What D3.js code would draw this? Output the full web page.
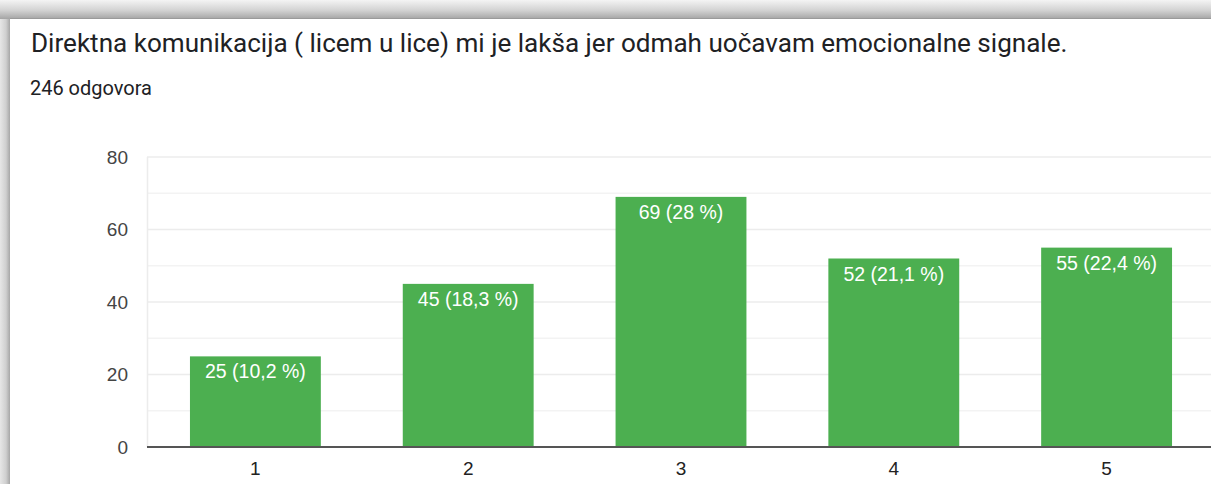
<!DOCTYPE html>
<html>
<head>
<meta charset="utf-8">
<script src="https://cdn.jsdelivr.net/npm/d3@7"></script>
<style>
  html, body { margin: 0; padding: 0; background: #fff; }
  svg { display: block; }
</style>
</head>
<body>
<svg id="chart"></svg>
<script>
const width = 1211;
const height = 484;

const title = "Direktna komunikacija ( licem u lice) mi je lakša jer odmah uočavam emocionalne signale.";
const subtitle = "246 odgovora";

const categories = ["1", "2", "3", "4", "5"];
const counts = [25, 45, 69, 52, 55];
const percents = ["10,2", "18,3", "28", "21,1", "22,4"];
const majorTicks = [0, 20, 40, 60, 80];
const minorTicks = [10, 30, 50, 70];

const bars = categories.map((c, i) => ({ cat: c, value: counts[i], pct: percents[i] }));

const svg = d3.select("#chart")
  .attr("width", width)
  .attr("height", height);

// shadow frame around the card
const defs = svg.append("defs");
const topGrad = defs.append("linearGradient")
  .attr("id", "topShade").attr("x1", 0).attr("y1", 0).attr("x2", 0).attr("y2", 1);
topGrad.append("stop").attr("offset", "0%").attr("stop-color", "#f4f4f4");
topGrad.append("stop").attr("offset", "55%").attr("stop-color", "#d2d2d2");
topGrad.append("stop").attr("offset", "100%").attr("stop-color", "#a4a4a4");

const leftGrad = defs.append("linearGradient")
  .attr("id", "leftShade").attr("x1", 0).attr("y1", 0).attr("x2", 1).attr("y2", 0);
leftGrad.append("stop").attr("offset", "0%").attr("stop-color", "#e6e6e6");
leftGrad.append("stop").attr("offset", "60%").attr("stop-color", "#cfcfcf");
leftGrad.append("stop").attr("offset", "100%").attr("stop-color", "#a6a6a6");

svg.append("rect").attr("x", 0).attr("y", 0).attr("width", width).attr("height", height).attr("fill", "#fff");
svg.append("rect").attr("x", 0).attr("y", 0).attr("width", 10).attr("height", height).attr("fill", "url(#leftShade)");
svg.append("rect").attr("x", 0).attr("y", 0).attr("width", width).attr("height", 19).attr("fill", "url(#topShade)");
svg.append("line").attr("x1", 10).attr("x2", width).attr("y1", 18.5).attr("y2", 18.5)
  .attr("stroke", "#9a9a9a").attr("stroke-width", 1);

// title + count
const titleText = svg.append("text")
  .attr("x", 31).attr("y", 52)
  .attr("font-family", "Roboto, 'Open Sans', sans-serif")
  .attr("font-size", 24)
  .attr("fill", "#202124")
  .text(title);
const tw = titleText.node().getComputedTextLength();
titleText.attr("font-size", 24 * 1037 / tw);

const subText = svg.append("text")
  .attr("x", 30).attr("y", 95)
  .attr("font-family", "Roboto, sans-serif")
  .attr("font-size", 18)
  .attr("fill", "#202124")
  .text(subtitle);
const sw = subText.node().getComputedTextLength();
subText.attr("font-size", 18 * 122 / sw);

// scales
const x = d3.scaleBand()
  .domain(categories)
  .range([149, 1213])
  .paddingInner(0.385)
  .paddingOuter(0.1925);

const y = d3.scaleLinear()
  .domain([0, 80])
  .range([447, 157]);

const plot = svg.append("g");

// gridlines
plot.selectAll(".minor")
  .data(minorTicks)
  .join("line")
  .attr("class", "minor")
  .attr("x1", 147).attr("x2", width)
  .attr("y1", d => y(d)).attr("y2", d => y(d))
  .attr("stroke", "#f3f3f3").attr("stroke-width", 1.5);

plot.selectAll(".major")
  .data(majorTicks.filter(d => d > 0))
  .join("line")
  .attr("class", "major")
  .attr("x1", 147).attr("x2", width)
  .attr("y1", d => y(d)).attr("y2", d => y(d))
  .attr("stroke", "#ececec").attr("stroke-width", 1.5);

plot.append("line")
  .attr("x1", 147.5).attr("x2", 147.5)
  .attr("y1", y(80)).attr("y2", y(0))
  .attr("stroke", "#ececec").attr("stroke-width", 1.5);

// y axis labels
const yAxis = d3.axisLeft(y).tickValues(majorTicks).tickSize(0).tickPadding(19);
plot.append("g")
  .attr("transform", "translate(147,0)")
  .call(yAxis)
  .call(g => g.select(".domain").remove())
  .call(g => g.selectAll("text")
    .attr("font-family", "Arial, 'Liberation Sans', sans-serif")
    .attr("font-size", 19)
    .attr("fill", "#444"));

// bars
plot.selectAll(".bar")
  .data(bars)
  .join("rect")
  .attr("class", "bar")
  .attr("x", d => x(d.cat))
  .attr("y", d => y(d.value))
  .attr("width", x.bandwidth())
  .attr("height", d => y(0) - y(d.value))
  .attr("fill", "#4caf50");

plot.selectAll(".bar-label")
  .data(bars)
  .join("text")
  .attr("class", "bar-label")
  .attr("x", d => x(d.cat) + x.bandwidth() / 2)
  .attr("y", d => y(d.value) + 22)
  .attr("text-anchor", "middle")
  .attr("font-family", "Arial, 'Liberation Sans', sans-serif")
  .attr("font-size", 19.5)
  .attr("fill", "#fff")
  .text(d => `${d.value} (${d.pct} %)`);

// baseline
plot.append("line")
  .attr("x1", 147).attr("x2", width)
  .attr("y1", y(0)).attr("y2", y(0))
  .attr("stroke", "#555").attr("stroke-width", 2);

// x axis labels
const xAxis = d3.axisBottom(x).tickSize(0).tickPadding(15);
plot.append("g")
  .attr("transform", `translate(0,${y(0)})`)
  .call(xAxis)
  .call(g => g.select(".domain").remove())
  .call(g => g.selectAll("text")
    .attr("font-family", "Arial, 'Liberation Sans', sans-serif")
    .attr("font-size", 19)
    .attr("fill", "#222"));
</script>
</body>
</html>
